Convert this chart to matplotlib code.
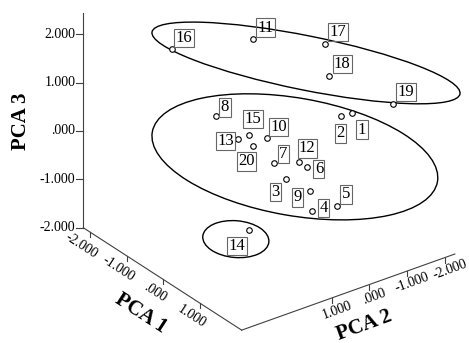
import matplotlib.pyplot as plt
from matplotlib.patches import Ellipse

plt.rcParams['font.family'] = ['Liberation Serif', 'DejaVu Serif']

# case labels and their positions on the projected (screen) plane, in PCA units
cases = [str(i) for i in range(1, 21)]
proj_h = [1.26, 1.03, -0.10, 0.43, 0.95, 0.33, -0.35, -1.55, 0.39, -0.50,
          -0.79, 0.17, -1.10, -0.87, -0.87, -2.46, 0.70, 0.79, 2.11, -0.79]
proj_v = [0.50, 0.43, -0.87, -1.53, -1.43, -0.62, -0.54, 0.43, -1.12, -0.02,
          2.03, -0.52, -0.04, -1.92, 0.04, 1.82, 1.92, 1.26, 0.68, -0.19]

# where each label box sits relative to its point (pixels)
lab_dx = [10, 0, -11, 12, 9, 12, 9, 9, -12, 12, 13, 8, -12, -12, 4, 12, 13, 13, 13, -6]
lab_dy = [-17, -17, -13, 3, 12, -2, 9, 9, -6, 11, 11, 14, -2, -16, 16, 11, 12, 12, 12, -15]

# cluster ellipses: centre h, centre v, width, height, angle
ell_h = [0.31, 0.08, -1.14]
ell_v = [1.53, -0.41, -2.11]
ell_w = [6.49, 5.98, 1.37]
ell_hgt = [1.12, 2.43, 0.76]
ell_ang = [-11.4, -9.9, -4.9]

ticks = [-2, -1, 0, 1, 2]
tick_labels = ['-2.000', '-1.000', '.000', '1.000', '2.000']

# axis ranges of the box
p1_min, p1_max = -2.18, 2.14
p2_min, p2_max = -2.26, 3.38
p3_min, p3_max = -2.0, 2.43

S = 48.4
E1 = (36.65 / S, -23.7 / S)
E2 = (-37.8 / S, -13.5 / S)


def proj(p1, p2, p3):
    return p1 * E1[0] + p2 * E2[0], p1 * E1[1] + p2 * E2[1] + p3


fig = plt.figure(figsize=(4.69, 3.43), dpi=100)
ax = fig.add_axes([0, 0, 1, 1])
ax.set_xlim(-291 / S, 178 / S)
ax.set_ylim(-206 / S, 137 / S)
ax.axis('off')

axc = '#404040'
# vertical axis
a = proj(p1_min, p2_max, p3_min)
b = proj(p1_min, p2_max, p3_max)
ax.plot([a[0], b[0]], [a[1], b[1]], color=axc, lw=0.8)
for t, lab in zip(ticks, tick_labels):
    x, y = proj(p1_min, p2_max, t)
    ax.plot([x - 7 / S, x], [y, y], color=axc, lw=0.8)
    ax.text(x - 8 / S, y, lab, ha='right', va='center', fontsize=10)

# PCA 1 axis
c = proj(p1_max, p2_max, p3_min)
ax.plot([a[0], c[0]], [a[1], c[1]], color=axc, lw=0.8)
for t, lab in zip(ticks[:4], tick_labels[:4]):
    x, y = proj(t, p2_max, p3_min)
    ax.plot([x, x], [y, y - 5 / S], color=axc, lw=0.8)
    ax.text(x - 8.5 / S, y - 13.5 / S, lab, ha='center', va='center',
            fontsize=10, rotation=-33)

# PCA 2 axis
d = proj(p1_max, p2_min, p3_min)
ax.plot([c[0], d[0]], [c[1], d[1]], color=axc, lw=0.8)
for t, lab in zip(ticks[:4], tick_labels[:4]):
    x, y = proj(p1_max, t, p3_min)
    ax.plot([x, x], [y, y - 5 / S], color=axc, lw=0.8)
    ax.text(x + 5 / S, y - 12 / S, lab, ha='center', va='center',
            fontsize=10, rotation=20)

ax.annotate('PCA 3', proj(p1_min, p2_max, 0.2), xytext=(-62, 0),
            textcoords='offset pixels', ha='center', va='center',
            fontsize=15, fontweight='bold', rotation=90)
ax.annotate('PCA 1', proj(0, p2_max, p3_min), xytext=(-22, -34),
            textcoords='offset pixels', ha='center', va='center',
            fontsize=15, fontweight='bold', rotation=-33)
ax.annotate('PCA 2', proj(p1_max, 0.56, p3_min), xytext=(16, -33),
            textcoords='offset pixels', ha='center', va='center',
            fontsize=15, fontweight='bold', rotation=20)

for h, v, w, hg, an in zip(ell_h, ell_v, ell_w, ell_hgt, ell_ang):
    ax.add_patch(Ellipse((h, v), w, hg, angle=an, fill=False,
                         ec='black', lw=1.0))

ax.plot(proj_h, proj_v, 'o', ms=4, mfc='white', mec='black', mew=0.8, zorder=3)

for lab, h, v, dx, dy in zip(cases, proj_h, proj_v, lab_dx, lab_dy):
    ax.annotate(lab, (h, v), xytext=(dx, dy), textcoords='offset pixels',
                ha='center', va='center', fontsize=12, zorder=4,
                bbox=dict(boxstyle='square,pad=0.08', fc='none', ec='#666666', lw=0.8))

fig.savefig('out.png', dpi=100)
